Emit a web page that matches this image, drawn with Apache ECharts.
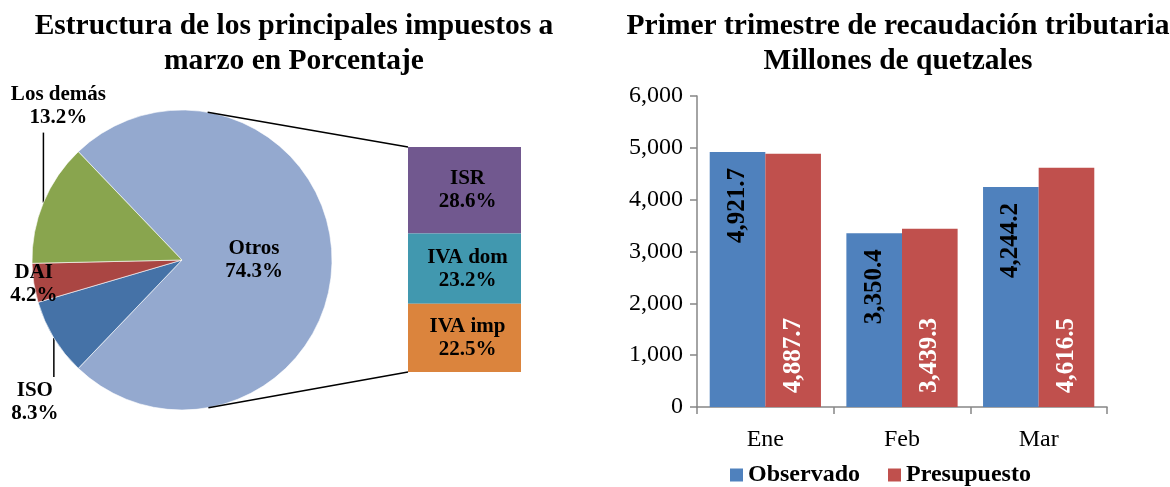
<!DOCTYPE html>
<html>
<head>
<meta charset="utf-8">
<script src="https://cdn.jsdelivr.net/npm/echarts@6/dist/echarts.min.js"></script>
<style>
  html, body { margin: 0; padding: 0; background: #fff; }
  #chart { width: 1170px; height: 487px; }
</style>
</head>
<body>
<div id="chart"></div>
<script>
// datos
var pieNames = ['Otros', 'ISO', 'DAI', 'Los demás'];
var pieValues = [74.3, 8.3, 4.2, 13.2];
var otrosNames = ['ISR', 'IVA dom', 'IVA imp'];
var otrosValues = [28.6, 23.2, 22.5];
var months = ['Ene', 'Feb', 'Mar'];
var observado = [4921.7, 3350.4, 4244.2];
var presupuesto = [4887.7, 3439.3, 4616.5];

var pieColors = ['#94a9cf', '#4572a7', '#aa4643', '#89a54e'];
var otrosColors = ['#71588f', '#4198af', '#db843d'];
var FONT = 'Liberation Serif';

// geometria del pastel
var PIE_CX = 182, PIE_CY = 260, PIE_R = 150;
var BAR_L = 408, BAR_T = 147, BAR_W = 113, BAR_H = 225;

var myChart = echarts.init(document.getElementById('chart'));

var total = pieValues.reduce(function (a, b) { return a + b; }, 0);
var otrosTotal = otrosValues.reduce(function (a, b) { return a + b; }, 0);

function fmt1(v) {
  return v.toLocaleString('en-US', { minimumFractionDigits: 1, maximumFractionDigits: 1 });
}

// columna de desglose (apilada, ISR arriba)
var otrosSeries = otrosNames.map(function (n, i) {
  return {
    name: n,
    type: 'bar',
    xAxisIndex: 1,
    yAxisIndex: 1,
    stack: 'otros',
    barWidth: '100%',
    data: [otrosValues[i]],
    itemStyle: { color: otrosColors[i] },
    label: {
      show: true,
      position: 'inside',
      offset: [3, 0],
      formatter: function (p) { return p.seriesName + '\n' + p.value.toFixed(1) + '%'; },
      fontFamily: FONT, fontWeight: 'bold', fontSize: 21, lineHeight: 23, color: '#000'
    }
  };
});

myChart.setOption({
  animation: false,
  title: [{
    text: 'Estructura de los principales impuestos a\nmarzo en Porcentaje',
    left: 289, top: 4, textAlign: 'center',
    textStyle: { fontFamily: FONT, fontWeight: 'bold', fontSize: 29.5, lineHeight: 35, color: '#000' }
  }, {
    text: 'Primer trimestre de recaudación tributaria\nMillones de quetzales',
    left: 893, top: 4, textAlign: 'center',
    textStyle: { fontFamily: FONT, fontWeight: 'bold', fontSize: 29.5, lineHeight: 35, color: '#000' }
  }],
  legend: {
    data: ['Observado', 'Presupuesto'],
    left: 725, top: 458,
    itemWidth: 13, itemHeight: 13, itemGap: 28,
    icon: 'rect',
    textStyle: { fontFamily: FONT, fontWeight: 'bold', fontSize: 24, color: '#000' }
  },
  grid: [
    { left: 697, right: 63, top: 96, bottom: 80 },
    { left: BAR_L, top: BAR_T, width: BAR_W, height: BAR_H }
  ],
  xAxis: [{
    type: 'category',
    data: months,
    axisLine: { lineStyle: { color: '#868686', width: 1.5 } },
    axisTick: { show: true, length: 7, lineStyle: { color: '#868686', width: 1.5 } },
    axisLabel: { fontFamily: FONT, fontSize: 24, color: '#000', margin: 21 }
  }, {
    type: 'category', gridIndex: 1, data: ['otros'], show: false
  }],
  yAxis: [{
    type: 'value',
    min: 0, max: 6000, interval: 1000,
    axisLine: { show: true, lineStyle: { color: '#868686', width: 1.5 } },
    axisTick: { show: true, length: 7, lineStyle: { color: '#868686', width: 1.5 } },
    splitLine: { show: false },
    axisLabel: {
      fontFamily: FONT, fontSize: 24, color: '#000', margin: 14,
      formatter: function (v) { return v.toLocaleString('en-US'); }
    }
  }, {
    type: 'value', gridIndex: 1, min: 0, max: otrosTotal, inverse: true, show: false
  }],
  series: [{
    name: 'Estructura',
    type: 'pie',
    center: [PIE_CX, PIE_CY],
    radius: PIE_R,
    startAngle: pieValues[0] / total * 180,
    clockwise: true,
    avoidLabelOverlap: false,
    itemStyle: { borderColor: '#fff', borderWidth: 0.6 },
    emphasis: { disabled: true },
    label: {
      position: 'outside',
      formatter: function (p) { return p.name + '\n' + p.value.toFixed(1) + '%'; },
      fontFamily: FONT, fontWeight: 'bold', fontSize: 21, lineHeight: 23, color: '#000'
    },
    labelLine: { show: true, length: 10, length2: 10, lineStyle: { color: '#000', width: 1.5 } },
    labelLayout: function (p) {
      var pts = p.labelLinePoints;
      if (p.dataIndex === 0) {
        return { dx: -3 };
      }
      var a = pts[0];
      if (p.dataIndex === 3) {
        return { x: a[0] + 15, y: a[1] - 74, align: 'center', verticalAlign: 'bottom',
          labelLinePoints: [[a[0], a[1]], [a[0], a[1] - 70]] };
      }
      if (p.dataIndex === 1) {
        return { x: a[0] - 19, y: a[1] + 41, align: 'center', verticalAlign: 'top',
          labelLinePoints: [[a[0], a[1]], [a[0], a[1] + 39]] };
      }
      return { x: a[0], y: a[1] + 1, align: 'center', verticalAlign: 'middle',
        labelLinePoints: [[a[0], a[1]], [a[0], a[1]]] };
    },
    data: pieNames.map(function (n, i) {
      var item = { name: n, value: pieValues[i], itemStyle: { color: pieColors[i] } };
      if (i === 0) { item.label = { position: 'inside' }; item.labelLine = { show: false }; }
      return item;
    })
  }].concat(otrosSeries).concat([{
    name: 'Observado',
    type: 'bar',
    data: observado,
    barGap: 0,
    barCategoryGap: '18.6%',
    itemStyle: { color: '#4f81bd' },
    label: {
      show: true, position: 'insideTop', distance: 16, rotate: 90,
      align: 'right', verticalAlign: 'middle',
      formatter: function (p) { return fmt1(p.value); },
      fontFamily: FONT, fontWeight: 'bold', fontSize: 25, color: '#000'
    }
  }, {
    name: 'Presupuesto',
    type: 'bar',
    data: presupuesto,
    itemStyle: { color: '#c0504d' },
    label: {
      show: true, position: 'insideBottom', distance: 14, rotate: 90,
      align: 'left', verticalAlign: 'middle',
      formatter: function (p) { return fmt1(p.value); },
      fontFamily: FONT, fontWeight: 'bold', fontSize: 25, color: '#fff'
    }
  }])
});

// lineas de conexion: tangentes del circulo a las esquinas de la columna
function tangentPoint(px, py, upper) {
  var dx = px - PIE_CX, dy = py - PIE_CY;
  var d = Math.sqrt(dx * dx + dy * dy);
  var base = Math.atan2(dy, dx);
  var off = Math.acos(PIE_R / d);
  var ang = upper ? base - off : base + off;
  return [PIE_CX + PIE_R * Math.cos(ang), PIE_CY + PIE_R * Math.sin(ang)];
}
var tl = myChart.convertToPixel({ gridIndex: 1 }, ['otros', 0]);
var bl = myChart.convertToPixel({ gridIndex: 1 }, ['otros', otrosTotal]);
var corners = [[BAR_L, tl[1]], [BAR_L, bl[1]]];
var t1 = tangentPoint(corners[0][0], corners[0][1], true);
var t2 = tangentPoint(corners[1][0], corners[1][1], false);
myChart.setOption({
  graphic: [
    { type: 'line', shape: { x1: t1[0], y1: t1[1], x2: corners[0][0], y2: corners[0][1] },
      style: { stroke: '#000', lineWidth: 1.5 }, z: 10 },
    { type: 'line', shape: { x1: t2[0], y1: t2[1], x2: corners[1][0], y2: corners[1][1] },
      style: { stroke: '#000', lineWidth: 1.5 }, z: 10 }
  ]
});
</script>
</body>
</html>
